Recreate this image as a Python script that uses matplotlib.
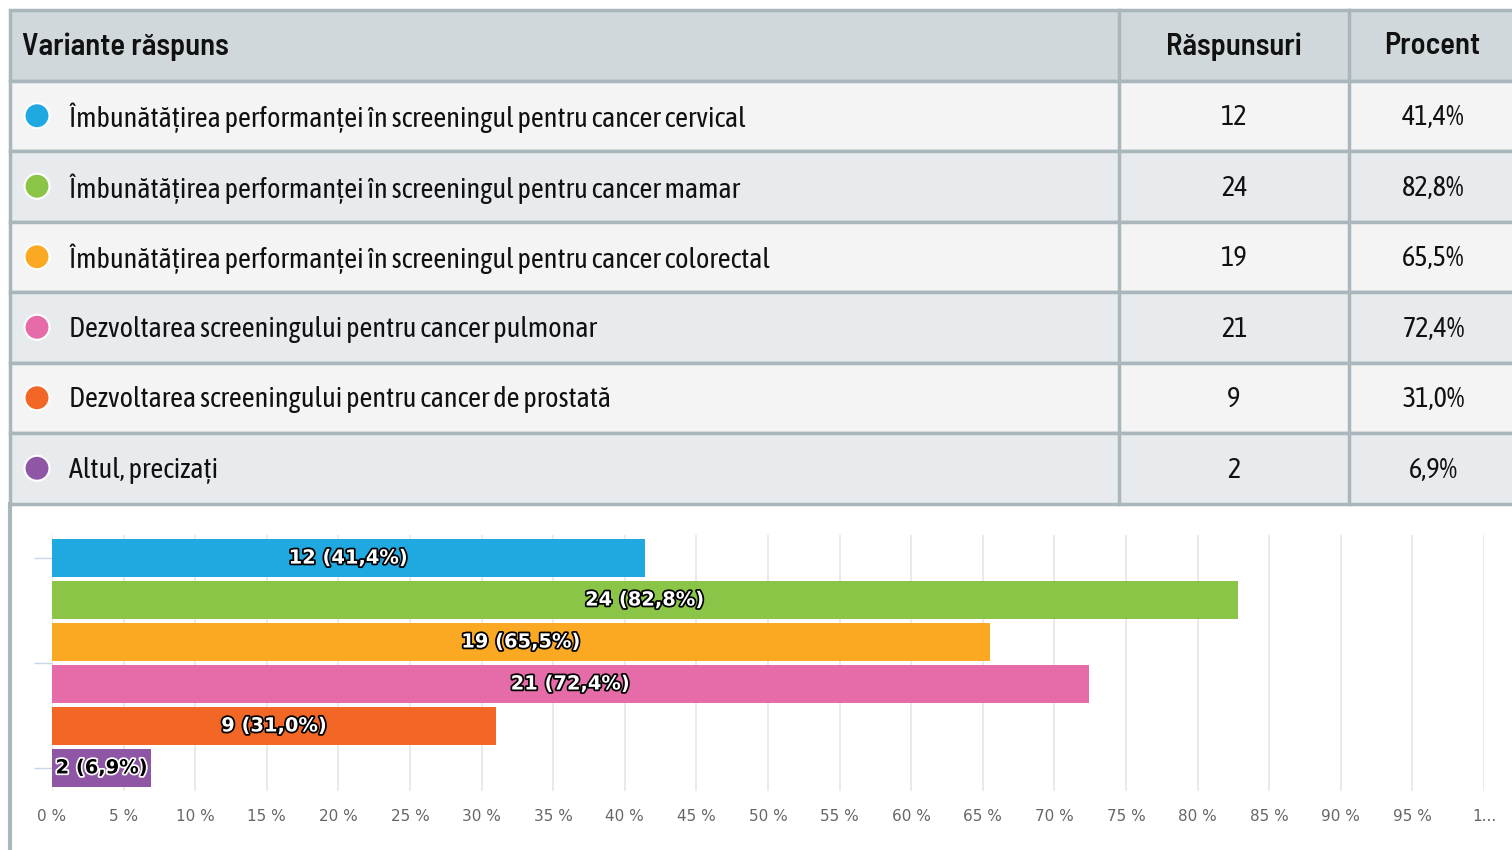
import matplotlib
matplotlib.use("Agg")
import matplotlib.pyplot as plt
import matplotlib.patheffects as pe
from matplotlib.patches import Rectangle, Circle

options = [
    "Îmbunătățirea performanței în screeningul pentru cancer cervical",
    "Îmbunătățirea performanței în screeningul pentru cancer mamar",
    "Îmbunătățirea performanței în screeningul pentru cancer colorectal",
    "Dezvoltarea screeningului pentru cancer pulmonar",
    "Dezvoltarea screeningului pentru cancer de prostată",
    "Altul, precizați",
]
responses = [12, 24, 19, 21, 9, 2]
percents = [41.4, 82.8, 65.5, 72.4, 31.0, 6.9]
colors = ["#20a9e1", "#8bc548", "#fba823", "#e56ca8", "#f26725", "#8e56a5"]
headers = ["Variante răspuns", "Răspunsuri", "Procent"]
x_ticks = list(range(0, 101, 5))
x_tick_labels = [f"{t} %" for t in x_ticks[:-1]] + ["1..."]

TFONT = ["Asap Condensed", "DejaVu Sans"]
HFONT = ["Barlow Semi Condensed", "Asap Condensed", "DejaVu Sans"]

W, H = 1512, 850
fig = plt.figure(figsize=(W / 100, H / 100), dpi=100, facecolor="white")

# table drawn in pixel space
tab = fig.add_axes([0, 0, 1, 1])
tab.set_xlim(0, W)
tab.set_ylim(H, 0)
tab.axis("off")

border = "#a9b7bd"
left, right = 10, W + 5
col1, col2 = 1119, 1349
top, head_h, row_h = 10, 70.5, 70.5

tab.add_patch(Rectangle((left, top), right - left, head_h, facecolor="#d0d8dc",
                        edgecolor=border, lw=2.5))
hy = top + head_h / 2 + 1
tab.text(22, hy, headers[0], fontsize=22, fontweight="semibold",
         family=HFONT, va="center", ha="left", color="#111111")
tab.text((col1 + col2) / 2, hy, headers[1], fontsize=22, fontweight="semibold",
         family=HFONT, va="center", ha="center", color="#111111")
tab.text((col2 + W) / 2 + 2, hy, headers[2], fontsize=22, fontweight="semibold",
         family=HFONT, va="center", ha="center", color="#111111")

for i, (lab, n, p, c) in enumerate(zip(options, responses, percents, colors)):
    y0 = top + head_h + i * row_h
    bg = "#f4f4f4" if i % 2 == 0 else "#e8ebed"
    tab.add_patch(Rectangle((left, y0), right - left, row_h, facecolor=bg,
                            edgecolor=border, lw=2.5))
    yc = y0 + row_h / 2 + 2
    tab.add_patch(Circle((37, yc - 2), 12.5, facecolor=c, edgecolor="white", lw=1.5))
    tab.text(69, yc, lab, fontsize=20.3, family=TFONT, va="center", ha="left", color="#111111")
    tab.text((col1 + col2) / 2, yc, str(n), fontsize=20.3, family=TFONT,
             va="center", ha="center", color="#111111")
    tab.text((col2 + W) / 2 + 3, yc, f"{p:.1f}%".replace(".", ","), fontsize=20.3,
             family=TFONT, va="center", ha="center", color="#111111")

bottom = top + head_h + len(options) * row_h
for xv in (col1, col2):
    tab.plot([xv, xv], [top, bottom], color=border, lw=2.5)
tab.plot([left, left], [bottom, H], color=border, lw=3)

# bar chart
x0, x1 = 52, 1484
yt, yb = 535, 791
ax = fig.add_axes([x0 / W, 1 - yb / H, (x1 - x0) / W, (yb - yt) / H])
ax.set_facecolor("none")
ypos = list(range(len(percents)))
ax.barh(ypos, percents, height=0.9, color=colors, zorder=3)
ax.set_xlim(0, 100)
ax.set_ylim(len(percents) - 0.45, -0.55)
ax.set_xticks(x_ticks)
ax.set_xticklabels(x_tick_labels, fontsize=11, color="#666666", family="DejaVu Sans")
ax.tick_params(axis="x", length=0, pad=13)
ax.set_yticks([0, 2.5, 5])
ax.set_yticklabels([])
ax.tick_params(axis="y", length=13, color="#ccd6eb", width=1)
ax.grid(axis="x", color="#e6e6e6", lw=1.2, zorder=0)
for s in ax.spines.values():
    s.set_visible(False)

for yv, n, p in zip(ypos, responses, percents):
    txt = f"{n} ({p:.1f}%)".replace(".", ",")
    if p > 15:
        ax.text(p / 2, yv, txt, ha="center", va="center", fontsize=14, fontweight="bold",
                color="white", zorder=4,
                path_effects=[pe.withStroke(linewidth=2.5, foreground="black")])
    else:
        ax.text(0.25, yv, txt, ha="left", va="center", fontsize=14, fontweight="bold",
                color="black", zorder=4,
                path_effects=[pe.withStroke(linewidth=2.5, foreground="white")])

fig.savefig("out.png", dpi=100, facecolor="white")
